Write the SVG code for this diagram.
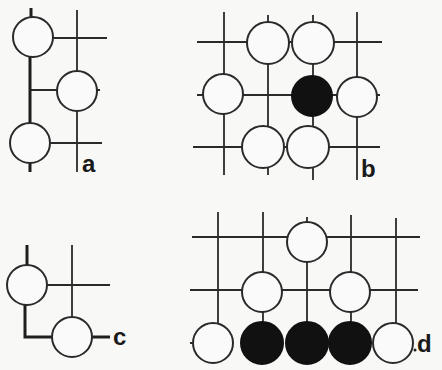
<svg xmlns="http://www.w3.org/2000/svg" width="442" height="370" viewBox="0 0 442 370">
<style>
.ln{stroke:#2a2a2a;stroke-width:1.8;fill:none;stroke-linecap:butt}
.th{stroke:#1e1e1e;stroke-width:3;fill:none}
.w{fill:#fafafa;stroke:#2a2a2a;stroke-width:2}
.b{fill:#111;stroke:#111;stroke-width:2}
.lbl{font-family:"Liberation Sans",Arial,sans-serif;font-weight:bold;font-size:24px;fill:#1a1a1a}
</style>
<rect width="442" height="370" fill="#f8f8f6"/>
<g id="connectors">
<!-- a -->
<path class="ln" d="M77 10V172 M33 38H107 M30 90H100 M30 143H102"/>
<path class="th" d="M31 8V17 M30 56V123 M30 163V172"/>
<!-- b -->
<path class="ln" d="M197 42H382 M197 95H380 M193 147H380 M224 12V175 M268 15V175 M313 15V180 M357 12V180"/>
<!-- c -->
<path class="ln" d="M72 245V318 M47 285H110"/>
<path class="th" d="M27 245V266 M25 304V337H53 M92 337H110"/>
<!-- d -->
<path class="ln" d="M192 237H420 M190 290H418 M218 212V324 M263 212V324 M307 217V324 M351 215V324 M396 218V324 M190 343H194"/>
</g>
<g id="a1"><circle class="w" cx="33" cy="37" r="20"/></g>
<g id="a2"><circle class="w" cx="77" cy="91" r="20"/></g>
<g id="a3"><circle class="w" cx="30" cy="143" r="20"/></g>
<g id="la"><text class="lbl" x="82" y="172">a</text></g>
<g id="b1"><circle class="w" cx="268" cy="43" r="21"/></g>
<g id="b2"><circle class="w" cx="313" cy="43" r="21"/></g>
<g id="b3"><circle class="w" cx="223" cy="94" r="20"/></g>
<g id="b4"><circle class="b" cx="312" cy="96" r="20"/></g>
<g id="b5"><circle class="w" cx="357" cy="97" r="20"/></g>
<g id="b6"><circle class="w" cx="263" cy="147" r="21"/></g>
<g id="b7"><circle class="w" cx="308" cy="147" r="21"/></g>
<g id="lb"><text class="lbl" x="361" y="177">b</text></g>
<g id="c1"><circle class="w" cx="27" cy="285" r="20"/></g>
<g id="c2"><circle class="w" cx="72" cy="337" r="20"/></g>
<g id="lc"><text class="lbl" x="113" y="345">c</text></g>
<g id="d1"><circle class="w" cx="307" cy="242" r="20"/></g>
<g id="d2"><circle class="w" cx="262" cy="292" r="20"/></g>
<g id="d3"><circle class="w" cx="350" cy="292" r="20"/></g>
<g id="d4"><circle class="w" cx="213" cy="343" r="20"/></g>
<g id="d5"><circle class="b" cx="262" cy="343" r="21"/></g>
<g id="d6"><circle class="b" cx="307" cy="343" r="21"/></g>
<g id="d7"><circle class="b" cx="350" cy="343" r="21"/></g>
<g id="d8"><circle class="w" cx="393" cy="343" r="20"/></g>
<g id="ld"><circle cx="415" cy="350" r="1.5" fill="#222"/><text class="lbl" x="417" y="352">d</text></g>
</svg>
